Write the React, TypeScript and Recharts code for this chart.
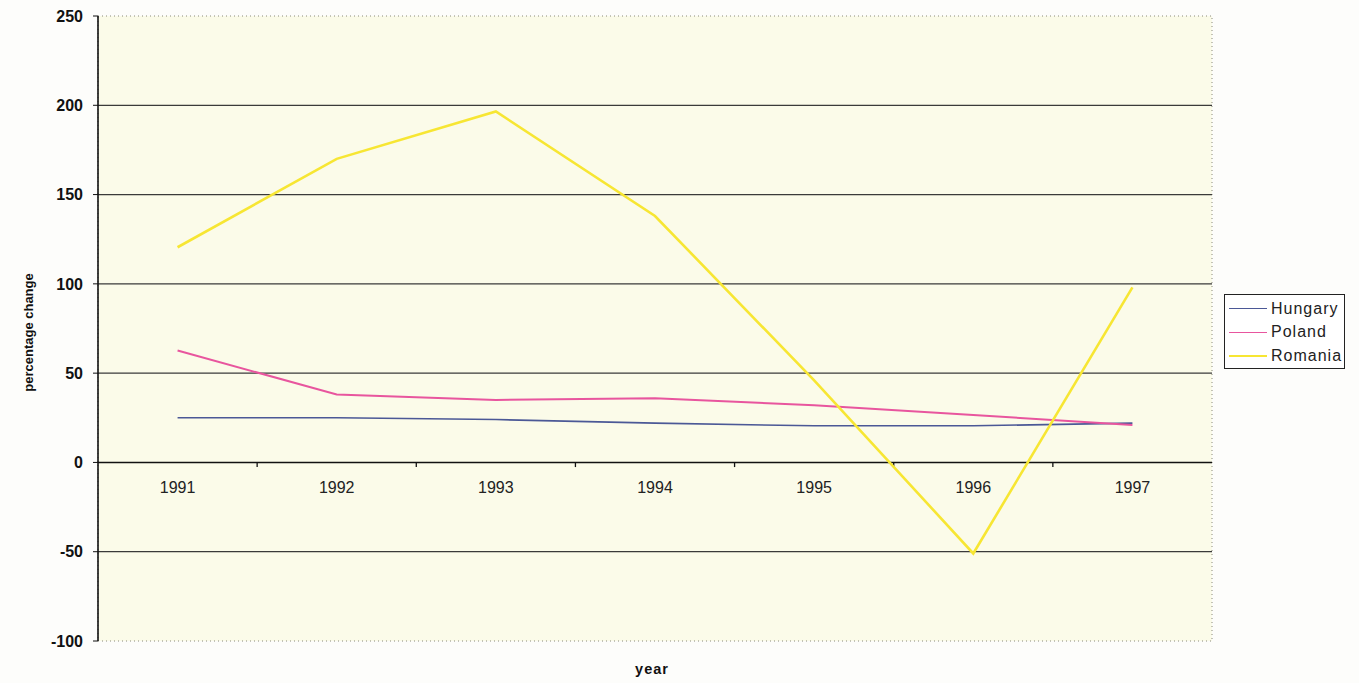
import React from 'react';
import {
  LineChart,
  Line,
  XAxis,
  YAxis,
  CartesianGrid,
  ReferenceLine,
  ReferenceArea,
  ReferenceDot,
} from 'recharts';

const years = ['1991', '1992', '1993', '1994', '1995', '1996', '1997'];
const hungary = [25, 25, 24, 22, 20.5, 20.5, 22];
const poland = [62.7, 38, 35, 36, 32, 26.5, 21];
const romania = [120.5, 170, 196.5, 138, 46, -51, 98];

const yTicks = [-100, -50, 0, 50, 100, 150, 200, 250];
const gridValues = [200, 150, 100, 50, -50];

const series = [
  { key: 'Hungary', color: '#4b5896', width: 1.6 },
  { key: 'Poland', color: '#e8559e', width: 2 },
  { key: 'Romania', color: '#f7e633', width: 2.6 },
];

const chartData = years.map((year, i) => ({
  year,
  Hungary: hungary[i],
  Poland: poland[i],
  Romania: romania[i],
}));

const font = 'Arial, "Liberation Sans", sans-serif';

const YLabel = ({ viewBox }: any) => {
  const cy = viewBox.y + viewBox.height / 2 + 4;
  return (
    <text
      x={28}
      y={cy}
      transform={`rotate(-90, 28, ${cy})`}
      textAnchor="middle"
      dominantBaseline="central"
      fontFamily={font}
      fontWeight="bold"
      fontSize={13}
      fill="#111"
    >
      percentage change
    </text>
  );
};

const XLabel = ({ viewBox }: any) => (
  <text
    x={viewBox.x + viewBox.width / 2 - 3}
    y={674}
    textAnchor="middle"
    fontFamily={font}
    fontWeight="bold"
    fontSize={14.5}
    letterSpacing={1}
    fill="#111"
  >
    year
  </text>
);

export default function App() {
  return (
    <div
      style={{
        position: 'absolute',
        left: 0,
        top: 0,
        width: 1359,
        height: 683,
        background: '#fdfdfb',
        fontFamily: font,
      }}
    >
      <LineChart
        width={1359}
        height={683}
        data={chartData}
        margin={{ top: 16, right: 147, bottom: 0, left: 0 }}
      >
        <CartesianGrid horizontal={false} vertical={false} fill="#fbfbe9" />
        <ReferenceArea
          x1={years[0]}
          x2={years[years.length - 1]}
          y1={-100}
          y2={250}
          fill="none"
          fillOpacity={0}
          stroke="#8a8a7a"
          strokeDasharray="1 3"
        />
        <XAxis
          dataKey="year"
          type="category"
          scale="band"
          height={42}
          axisLine={false}
          tickLine={false}
          tick={false}
          label={<XLabel />}
        />
        <YAxis
          width={98}
          domain={[-100, 250]}
          ticks={yTicks}
          interval={0}
          axisLine={{ stroke: '#111', strokeWidth: 1.6 }}
          tickLine={{ stroke: '#111' }}
          tickSize={5}
          tickMargin={10}
          tick={{ fill: '#111', fontSize: 16, fontWeight: 'bold', fontFamily: font }}
          label={<YLabel />}
        />
        {gridValues.map((v) => (
          <ReferenceLine key={v} y={v} stroke="#3a3a3a" strokeWidth={1.3} />
        ))}
        <ReferenceLine y={0} stroke="#111" strokeWidth={1.6} />
        {/* small ticks on the zero line between categories */}
        {years.slice(1).map((y) => (
          <ReferenceLine
            key={'t' + y}
            position="start"
            segment={[{ x: y, y: 0 }, { x: y, y: -2.6 }]}
            stroke="#111"
            strokeWidth={1.3}
          />
        ))}
        {years.map((y) => (
          <ReferenceDot
            key={y}
            x={y}
            y={0}
            r={0}
            fill="none"
            stroke="none"
            label={{
              value: y,
              position: 'bottom',
              offset: 19,
              fill: '#222',
              fontSize: 16,
              fontFamily: font,
            }}
          />
        ))}
        {series.map((s) => (
          <Line
            key={s.key}
            type="linear"
            dataKey={s.key}
            stroke={s.color}
            strokeWidth={s.width}
            dot={false}
            isAnimationActive={false}
          />
        ))}
      </LineChart>

      {/* legend */}
      <div
        style={{
          position: 'absolute',
          left: 1224,
          top: 294,
          width: 119,
          height: 71,
          border: '1px solid #222',
          background: '#fff',
          paddingTop: 2,
        }}
      >
        {series.map((s) => (
          <div
            key={s.key}
            style={{ display: 'flex', alignItems: 'center', height: 23.5 }}
          >
            <div
              style={{
                marginLeft: 4,
                width: 38,
                height: 0,
                borderTop: `${Math.max(1.5, s.width - 0.4)}px solid ${s.color}`,
              }}
            />
            <span
              style={{
                marginLeft: 4,
                fontSize: 16,
                letterSpacing: 1,
                color: '#222',
              }}
            >
              {s.key}
            </span>
          </div>
        ))}
      </div>
    </div>
  );
}
